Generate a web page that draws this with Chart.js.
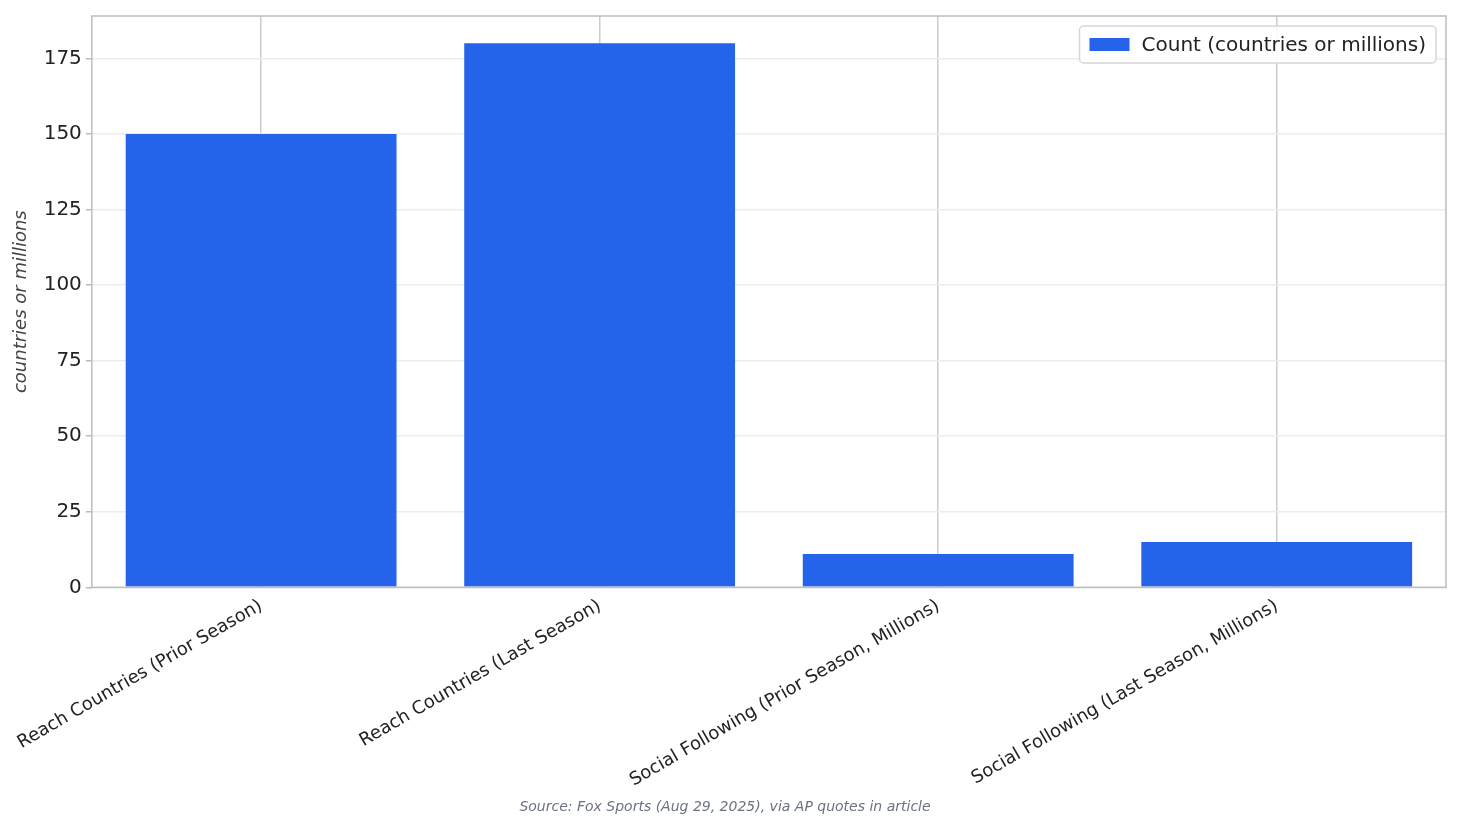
<!DOCTYPE html>
<html>
<head>
<meta charset="utf-8">
<script src="https://cdn.jsdelivr.net/npm/chart.js@4/dist/chart.umd.min.js"></script>
<style>
  html, body { margin: 0; padding: 0; background: #fff; }
  #wrap { width: 1461px; height: 824px; position: relative; }
</style>
</head>
<body>
<div id="wrap"><canvas id="c" width="1461" height="824"></canvas></div>
<script>
const categories = [
  "Reach Countries (Prior Season)",
  "Reach Countries (Last Season)",
  "Social Following (Prior Season, Millions)",
  "Social Following (Last Season, Millions)"
];
const counts = [150, 180, 11, 15];
const yTicks = [0, 25, 50, 75, 100, 125, 150, 175];
const seriesLabel = "Count (countries or millions)";
const sourceNote = "Source: Fox Sports (Aug 29, 2025), via AP quotes in article";

const FONT = "'DejaVu Sans', sans-serif";

// legend drawn inside the plot, top right, plus frame around plot area
const insideLegend = {
  id: "insideLegend",
  afterDraw(chart) {
    const { ctx, chartArea: a } = chart;
    ctx.save();
    ctx.strokeStyle = "#bdbdbd";
    ctx.lineWidth = 1.5;
    ctx.strokeRect(a.left, a.top, a.right - a.left, a.bottom - a.top);

    ctx.font = `20px ${FONT}`;
    const label = chart.data.datasets[0].label;
    const tw = ctx.measureText(label).width;
    const w = tw + 72, h = 37;
    const x = a.right - 10 - w, y = a.top + 10;
    ctx.fillStyle = "rgba(255,255,255,0.9)";
    ctx.strokeStyle = "#d6d6d6";
    ctx.lineWidth = 1.5;
    ctx.beginPath();
    ctx.roundRect(x, y, w, h, 4);
    ctx.fill();
    ctx.stroke();
    ctx.fillStyle = chart.data.datasets[0].backgroundColor;
    ctx.fillRect(x + 10, y + 12, 40, 13);
    ctx.fillStyle = "#222";
    ctx.textBaseline = "middle";
    ctx.fillText(label, x + 62, y + h / 2 + 1);
    ctx.restore();
  }
};

new Chart(document.getElementById("c"), {
  type: "bar",
  data: {
    labels: categories,
    datasets: [{
      label: seriesLabel,
      data: counts,
      backgroundColor: "#2563eb",
      categoryPercentage: 0.8,
      barPercentage: 1.0
    }]
  },
  options: {
    responsive: false,
    animation: false,
    layout: { padding: { left: 4, right: 15, top: 15, bottom: 2 } },
    plugins: {
      legend: { display: false },
      tooltip: { enabled: false },
      title: { display: false },
      subtitle: {
        display: true,
        position: "bottom",
        text: sourceNote,
        color: "#6b7280",
        font: { family: FONT, size: 14, style: "italic" },
        padding: { top: 0, bottom: 6 }
      }
    },
    scales: {
      x: {
        grid: { color: "#cccccc", lineWidth: 1.5, offset: false, drawTicks: false },
        border: { display: false },
        ticks: {
          color: "#222",
          font: { family: FONT, size: 18 },
          maxRotation: 30, minRotation: 30,
          padding: 8
        }
      },
      y: {
        min: 0, max: 189,
        afterBuildTicks(scale) { scale.ticks = yTicks.map(v => ({ value: v })); },
        grid: { color: "#ececec", lineWidth: 1.5, drawTicks: true, tickLength: 6, tickColor: "#bbb" },
        border: { display: false },
        ticks: { color: "#222", font: { family: FONT, size: 20 }, padding: 4 },
        title: {
          display: true,
          text: "countries or millions",
          color: "#444",
          font: { family: FONT, size: 18, style: "italic" },
          padding: { bottom: 8 }
        }
      }
    }
  },
  plugins: [insideLegend]
});
</script>
</body>
</html>
